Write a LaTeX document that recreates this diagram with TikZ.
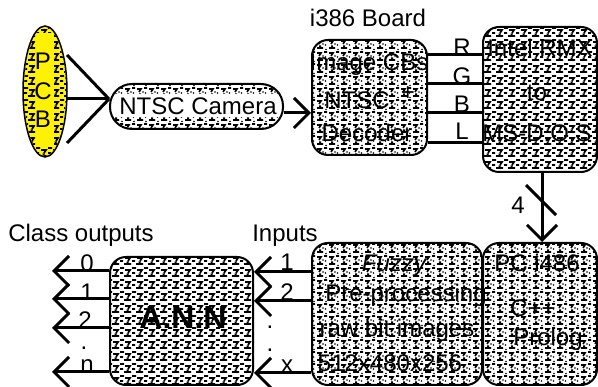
\documentclass[tikz,border=0pt]{standalone}
\usepackage{fontspec}
\setmainfont{Liberation Sans}
\usetikzlibrary{arrows.meta,patterns,shapes.geometric}

\pgfdeclarepatternformonly{glyphA}{\pgfqpoint{-1pt}{-1pt}}{\pgfqpoint{13pt}{13pt}}{\pgfqpoint{12pt}{12pt}}{%
  \pgfsetlinewidth{1.7pt}%
  \pgfpathmoveto{\pgfqpoint{0pt}{11pt}}\pgfpathlineto{\pgfqpoint{4pt}{11pt}}%
  \pgfpathmoveto{\pgfqpoint{5pt}{9pt}}\pgfpathlineto{\pgfqpoint{10pt}{9pt}}\pgfpathlineto{\pgfqpoint{8pt}{6pt}}%
  \pgfpathmoveto{\pgfqpoint{4pt}{3pt}}\pgfpathlineto{\pgfqpoint{11pt}{3pt}}%
  \pgfpathmoveto{\pgfqpoint{6.5pt}{4.8pt}}\pgfpathlineto{\pgfqpoint{8.5pt}{4.8pt}}%
  \pgfpathmoveto{\pgfqpoint{0pt}{6pt}}\pgfpathlineto{\pgfqpoint{3pt}{6pt}}%
  \pgfusepath{stroke}%
}
\pgfdeclarepatternformonly{glyphB}{\pgfqpoint{-1pt}{-1pt}}{\pgfqpoint{13pt}{13pt}}{\pgfqpoint{12pt}{12pt}}{%
  \pgfsetlinewidth{1.6pt}%
  \pgfpathmoveto{\pgfqpoint{0pt}{11pt}}\pgfpathlineto{\pgfqpoint{3pt}{11pt}}%
  \pgfpathmoveto{\pgfqpoint{5pt}{10pt}}\pgfpathlineto{\pgfqpoint{9pt}{10pt}}\pgfpathlineto{\pgfqpoint{7pt}{7pt}}%
  \pgfpathmoveto{\pgfqpoint{5pt}{3pt}}\pgfpathlineto{\pgfqpoint{11pt}{3pt}}%
  \pgfpathmoveto{\pgfqpoint{7pt}{4.8pt}}\pgfpathlineto{\pgfqpoint{9pt}{4.8pt}}%
  \pgfusepath{stroke}%
  \pgfpathcircle{\pgfqpoint{1.5pt}{6pt}}{0.8pt}%
  \pgfpathcircle{\pgfqpoint{2pt}{1.5pt}}{0.8pt}%
  \pgfpathcircle{\pgfqpoint{11pt}{7pt}}{0.8pt}%
  \pgfusepath{fill}%
}

\tikzset{
  box/.style={draw, line width=2pt, rounded corners=16pt, inner sep=0pt, pattern=glyphA},
  boxb/.style={box, pattern=glyphB},
  lab/.style={inner sep=0pt, text height=17pt, text depth=0pt, font=\fontsize{24}{28}\selectfont},
  dotlab/.style={inner sep=0pt, text height=3pt, text depth=0pt, font=\fontsize{24}{28}\selectfont},
  conn/.style={line width=3pt},
  arr/.style={conn, -{Straight Barb[length=15pt,width=30pt]}}
}

\begin{document}
\begin{tikzpicture}[x=1pt,y=-1pt]
\useasboundingbox (0,0) rectangle (598,387);

% PCB ellipse
\node[ellipse, draw, line width=1.5pt, fill=yellow, minimum width=44pt, minimum height=131pt, inner sep=0pt] (pcb) at (45,91.5) {};
\begin{scope}
  \clip (45,91.5) ellipse [x radius=21pt, y radius=64.5pt];
  \path[pattern=glyphA] (23,26) rectangle (35,157);
  \path[pattern=glyphA] (54,26) rectangle (67,157);
  \path[pattern=glyphA] (23,26) rectangle (67,33);
  \path[pattern=glyphA] (23,148) rectangle (67,157);
\end{scope}
\node[lab] (pP) at (43,61) {P};
\node[lab] (pC) at (43,91) {C};
\node[lab] (pB) at (43,119) {B};

% camera
\node[draw, line width=2pt, rounded corners=22pt, minimum width=173pt, minimum height=45pt, inner sep=0pt] (cam) at (196.5,106.5) {};
\begin{scope}
  \clip[rounded corners=21pt] (111,85) rectangle (282,128);
  \path[pattern=glyphB] (110,84) rectangle (283,94);
  \path[pattern=glyphB] (110,118) rectangle (283,129);
\end{scope}
\node[lab] (camt) at (198,106) {NTSC Camera};

\coordinate (s1) at (67,55);
\coordinate (s2) at (67,99);
\coordinate (s3) at (67,143);
\draw[conn] (s1) -- (cam.west |- 0,99);
\draw[conn] (s2) -- (cam.west |- 0,99);
\draw[conn] (s3) -- (cam.west |- 0,99);

% i386 board
\node[boxb, minimum width=115pt, minimum height=115pt] (i386) at (369.5,97.5) {};
\node[lab] (t386) at (368,18) {i386 Board};
\node[lab] (i1) at (369,62) {Image CBs};
\node[lab] (i2) at (357,100) {NTSC};
\node[lab] (i3) at (367,133) {Decoder};
\node[lab] (iplus) at (408,92) {+};

\draw[arr] (cam.east |- 0,113) -- (i386.west |- 0,113);

% Intel RMX
\node[box, minimum width=114pt, minimum height=145pt] (intel) at (540,99.5) {};
\node[lab] (n1) at (540,48) {Intel RMX};
\node[lab] (n2) at (537,92) {to};
\node[lab] (n3) at (537,133) {MS-D.O.S};

\draw[conn] (i386.east |- 0,55) -- (intel.west |- 0,55);
\draw[conn] (i386.east |- 0,84) -- (intel.west |- 0,84);
\draw[conn] (i386.east |- 0,113) -- (intel.west |- 0,113);
\draw[conn] (i386.east |- 0,143) -- (intel.west |- 0,143);
\node[lab] (lR) at (462,47) {R};
\node[lab] (lG) at (462,76) {G};
\node[lab] (lB) at (462,104) {B};
\node[lab] (lL) at (462,131) {L};

% PC i486
\node[boxb, minimum width=114pt, minimum height=142pt] (pc) at (540,314) {};
\node[lab] (c1) at (537,263) {PC i486};
\node[lab] (c2) at (533,308) {C++};
\node[lab] (c3) at (548,337) {Prolog};

\draw[arr] (intel.south -| 542,0) -- (pc.north -| 542,0);
\draw[conn] (526,185) -- (556,215);
\node[lab] (four) at (518,205) {4};

% Fuzzy
\node[boxb, minimum width=170pt, minimum height=142pt] (fuzzy) at (397,314) {};
\node[lab] (f1) at (394,263) {\itshape Fuzzy};
\node[lab] (f2) at (406,293) {Pre-processing};
\node[lab] (f3) at (397,328) {raw bit images};
\node[lab] (f4) at (390,363) {512x480x256};

% ANN
\node[box, minimum width=143pt, minimum height=128pt] (ann) at (181.5,321) {};
\node[inner sep=0pt, text height=23pt, text depth=0pt, font=\fontsize{32}{36}\selectfont\bfseries] (annt) at (183,317) {A.N.N};

% inputs
\node[lab] (inl) at (285,233) {Inputs};
\draw[arr] (fuzzy.west |- 0,272) -- (ann.east |- 0,272);
\draw[arr] (fuzzy.west |- 0,301) -- (ann.east |- 0,301);
\draw[arr] (fuzzy.west |- 0,373) -- (ann.east |- 0,373);
\node[lab] (in1) at (287,262) {1};
\node[lab] (in2) at (287,292) {2};
\node[lab] (inx) at (287,364) {x};
\node[dotlab] (ind1) at (270,327) {.};
\node[dotlab] (ind2) at (270,350) {.};

% outputs
\node[lab] (outl) at (81,233) {Class outputs};
\coordinate (o0) at (52,271);
\coordinate (o1) at (52,299);
\coordinate (o2) at (52,328);
\coordinate (on) at (52,372);
\draw[arr] (ann.west |- o0) -- (o0);
\draw[arr] (ann.west |- o1) -- (o1);
\draw[arr] (ann.west |- o2) -- (o2);
\draw[arr] (ann.west |- on) -- (on);
\node[lab] (out0) at (87,263) {0};
\node[lab] (out1) at (87,292) {1};
\node[lab] (out2) at (85,320) {2};
\node[lab] (outn) at (87,364) {n};
\node[dotlab] (outd) at (84,348) {.};
\end{tikzpicture}
\end{document}
